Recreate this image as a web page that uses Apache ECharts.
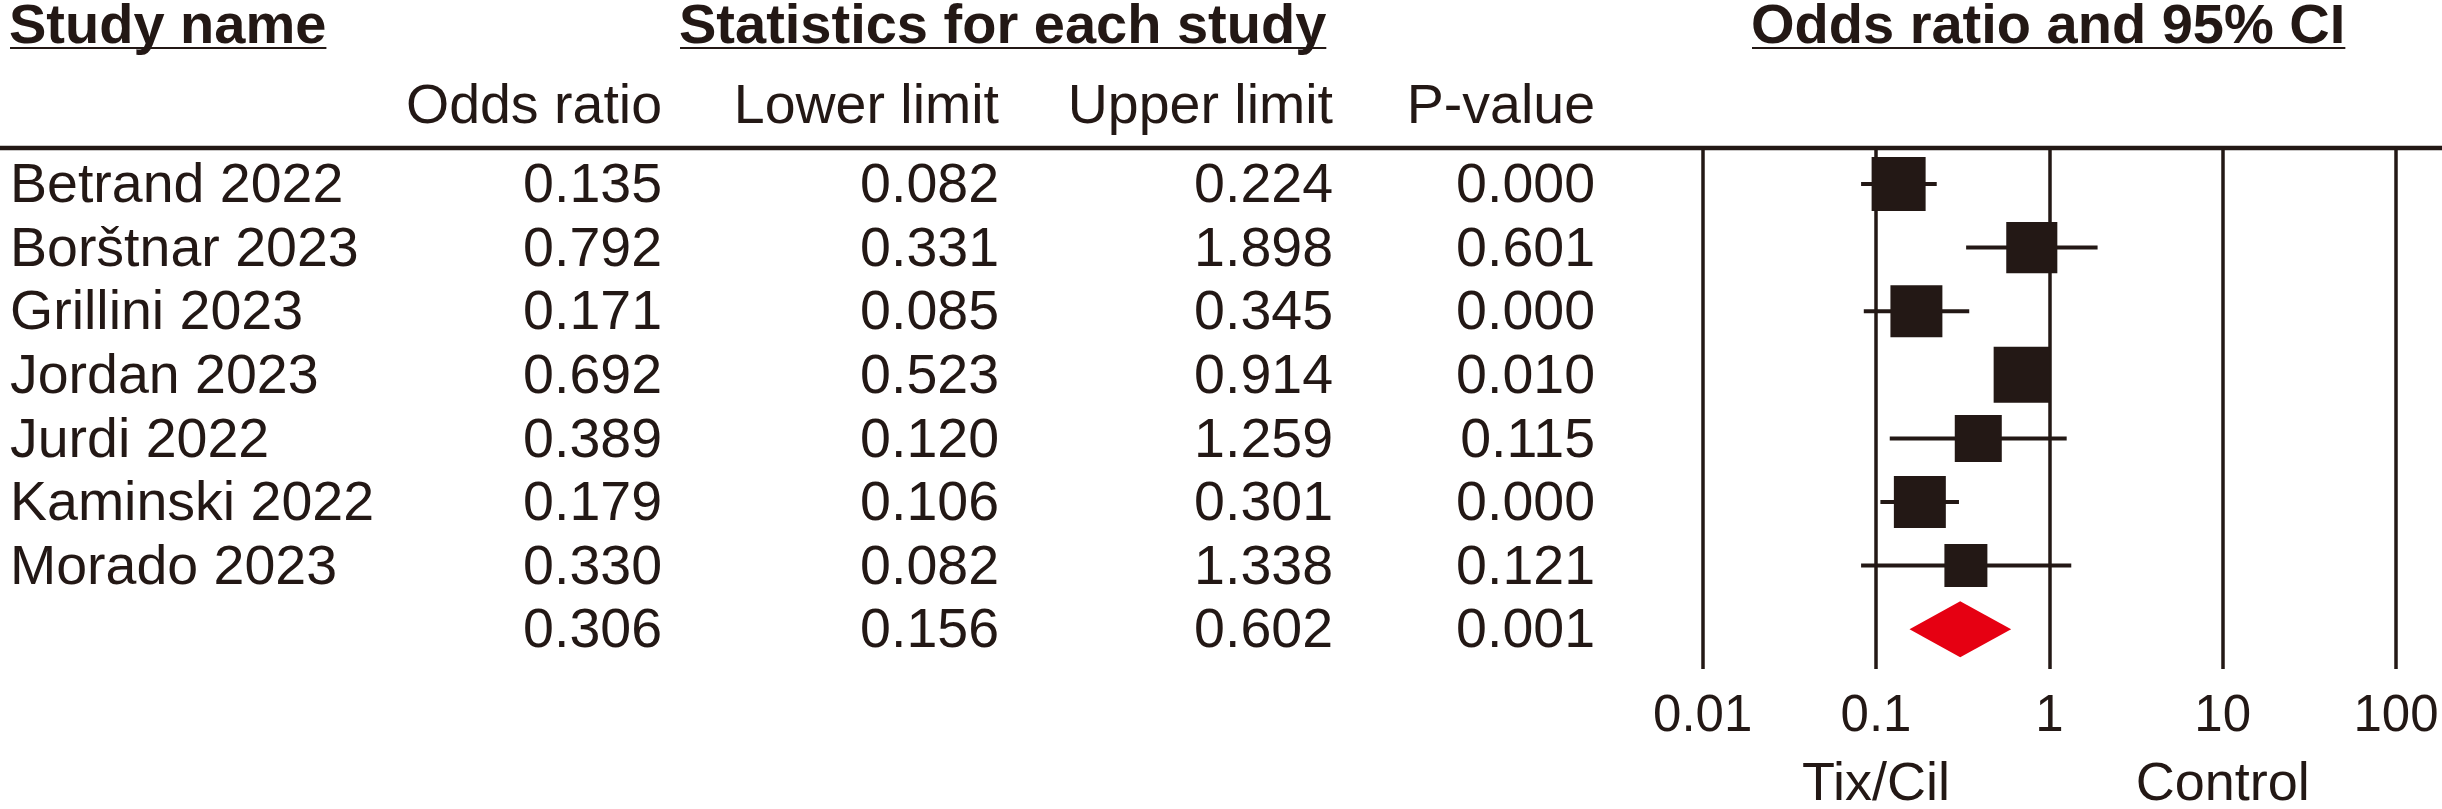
<!DOCTYPE html>
<html><head><meta charset="utf-8">
<script src="https://cdn.jsdelivr.net/npm/echarts@6/dist/echarts.min.js"></script>
<style>html,body{margin:0;padding:0;background:#fff;overflow:hidden}#c{width:2442px;height:809px}</style>
</head><body><div id="c"></div>
<script>
// ---------- data ----------
const studies    = ["Betrand 2022","Borštnar 2023","Grillini 2023","Jordan 2023","Jurdi 2022","Kaminski 2022","Morado 2023"];
const oddsRatio  = [0.135, 0.792, 0.171, 0.692, 0.389, 0.179, 0.330];
const lowerLimit = [0.082, 0.331, 0.085, 0.523, 0.120, 0.106, 0.082];
const upperLimit = [0.224, 1.898, 0.345, 0.914, 1.259, 0.301, 1.338];
const pValues    = ["0.000","0.601","0.000","0.010","0.115","0.000","0.121"];
const relWeights = [16.1, 14.4, 14.9, 17.3, 12.2, 14.9, 10.2];   // relative study weights (%)
const pooledOR = 0.306, pooledLower = 0.156, pooledUpper = 0.602, pooledP = "0.001";
const tickValues = [0.01, 0.1, 1, 10, 100];
const tickLabels = ["0.01","0.1","1","10","100"];
const colHeaders = ["Odds ratio","Lower limit","Upper limit","P-value"];
const groupHeaders = ["Study name","Statistics for each study","Odds ratio and 95% CI"];
const sideLabels = ["Tix/Cil","Control"];
const sideLabelAt = [0.1, 10];

// ---------- layout / style ----------
const INK = '#231815', RED = '#e60012';
const FF = "'Liberation Sans', Arial, Helvetica, sans-serif";
const GRID = {left: 1702.7, top: 148, width: 693.3, height: 521};
const Y_MIN = -0.566, Y_MAX = 7.626;
const NAME_X = 10;
const COL_RIGHT = [662, 999, 1333, 1595];
const TEXT_DY = 3;
const SQ_K = 13.46;

const fmt = v => v.toFixed(3);
const rows = studies.map((s, i) => [i, s, fmt(oddsRatio[i]), fmt(lowerLimit[i]), fmt(upperLimit[i]), pValues[i]]);
rows.push([studies.length, "", fmt(pooledOR), fmt(pooledLower), fmt(pooledUpper), pooledP]);

const studyData = studies.map((s, i) => [i, oddsRatio[i], lowerLimit[i], upperLimit[i], relWeights[i]]);
const pooledData = [[studies.length, pooledOR, pooledLower, pooledUpper]];

const chart = echarts.init(document.getElementById('c'), null, {renderer: 'canvas'});

const option = {
  animation: false,
  backgroundColor: '#fff',
  grid: [{left: GRID.left, top: GRID.top, width: GRID.width, height: GRID.height}],
  xAxis: [{
    type: 'log', logBase: 10, min: 0.01, max: 100, gridIndex: 0,
    axisLine: {show: false}, axisTick: {show: false},
    splitLine: {show: true, lineStyle: {color: INK, width: 3.5}},
    axisLabel: {
      show: true, margin: 48, verticalAlign: 'middle', color: INK,
      fontFamily: FF, fontSize: 51,
      formatter: (v) => {
        let best = 0;
        tickValues.forEach((t, i) => { if (Math.abs(Math.log10(t) - Math.log10(v)) < Math.abs(Math.log10(tickValues[best]) - Math.log10(v))) best = i; });
        return tickLabels[best];
      }
    }
  }],
  yAxis: [{
    type: 'value', min: Y_MIN, max: Y_MAX, inverse: true, gridIndex: 0, show: false
  }],
  series: [
    {
      // table text
      type: 'custom', xAxisIndex: 0, yAxisIndex: 0, clip: false, silent: true,
      data: rows,
      encode: {y: 0},
      renderItem: (params, api) => {
        const r = rows[params.dataIndex];
        const y = api.coord([1, r[0]])[1] + TEXT_DY;
        const children = [{
          type: 'text', x: NAME_X, y,
          style: {text: r[1], fill: INK, font: `55.5px ${FF}`, align: 'left', verticalAlign: 'middle'}
        }];
        for (let c = 0; c < 4; c++) {
          children.push({
            type: 'text', x: COL_RIGHT[c], y,
            style: {text: r[2 + c], fill: INK, font: `55.5px ${FF}`, align: 'right', verticalAlign: 'middle'}
          });
        }
        return {type: 'group', children};
      }
    },
    {
      // study CIs and weighted squares
      type: 'custom', xAxisIndex: 0, yAxisIndex: 0, clip: false, silent: true,
      data: studyData,
      encode: {x: [1, 2, 3], y: 0},
      renderItem: (params, api) => {
        const row = api.value(0);
        const c = api.coord([api.value(1), row]);
        const lo = api.coord([api.value(2), row]);
        const hi = api.coord([api.value(3), row]);
        const side = SQ_K * Math.sqrt(api.value(4));
        return {type: 'group', children: [
          {type: 'line', shape: {x1: lo[0], y1: c[1], x2: hi[0], y2: c[1]}, style: {stroke: INK, lineWidth: 4}},
          {type: 'rect', shape: {x: c[0] - side / 2, y: c[1] - side / 2, width: side, height: side}, style: {fill: INK}}
        ]};
      }
    },
    {
      // pooled diamond
      type: 'custom', xAxisIndex: 0, yAxisIndex: 0, clip: false, silent: true,
      data: pooledData,
      encode: {x: [1, 2, 3], y: 0},
      renderItem: (params, api) => {
        const row = api.value(0);
        const c = api.coord([api.value(1), row]);
        const lo = api.coord([api.value(2), row]);
        const hi = api.coord([api.value(3), row]);
        const h = 28;
        return {type: 'polygon', shape: {points: [[lo[0], c[1]], [c[0], c[1] - h], [hi[0], c[1]], [c[0], c[1] + h]]}, style: {fill: RED}};
      }
    }
  ]
};
chart.setOption(option);

// ---------- headers, rule, side labels ----------
const mctx = document.createElement('canvas').getContext('2d');
const boldFont = `bold 56px ${FF}`;
mctx.font = boldFont;
const HEAD_Y = 27.5, UL_Y = 48;
const headX = [9, 679, 1751];
const graphics = [];
groupHeaders.forEach((t, i) => {
  const w = mctx.measureText(t).width;
  graphics.push({type: 'text', x: headX[i], y: HEAD_Y, style: {text: t, fill: INK, font: boldFont, align: 'left', verticalAlign: 'middle'}});
  graphics.push({type: 'line', shape: {x1: headX[i] + 1, y1: UL_Y, x2: headX[i] + w, y2: UL_Y}, style: {stroke: INK, lineWidth: 2.2}});
});
colHeaders.forEach((t, i) => {
  graphics.push({type: 'text', x: COL_RIGHT[i], y: 108, style: {text: t, fill: INK, font: `55.5px ${FF}`, align: 'right', verticalAlign: 'middle'}});
});
graphics.push({type: 'line', shape: {x1: 0, y1: 148, x2: 2442, y2: 148}, style: {stroke: INK, lineWidth: 4.5}});
sideLabels.forEach((t, i) => {
  const px = chart.convertToPixel({gridIndex: 0}, [sideLabelAt[i], 0]);
  graphics.push({type: 'text', x: px[0], y: 785, style: {text: t, fill: INK, font: `54px ${FF}`, align: 'center', verticalAlign: 'middle'}});
});
chart.setOption({graphic: {elements: graphics}});
</script>
</body></html>
